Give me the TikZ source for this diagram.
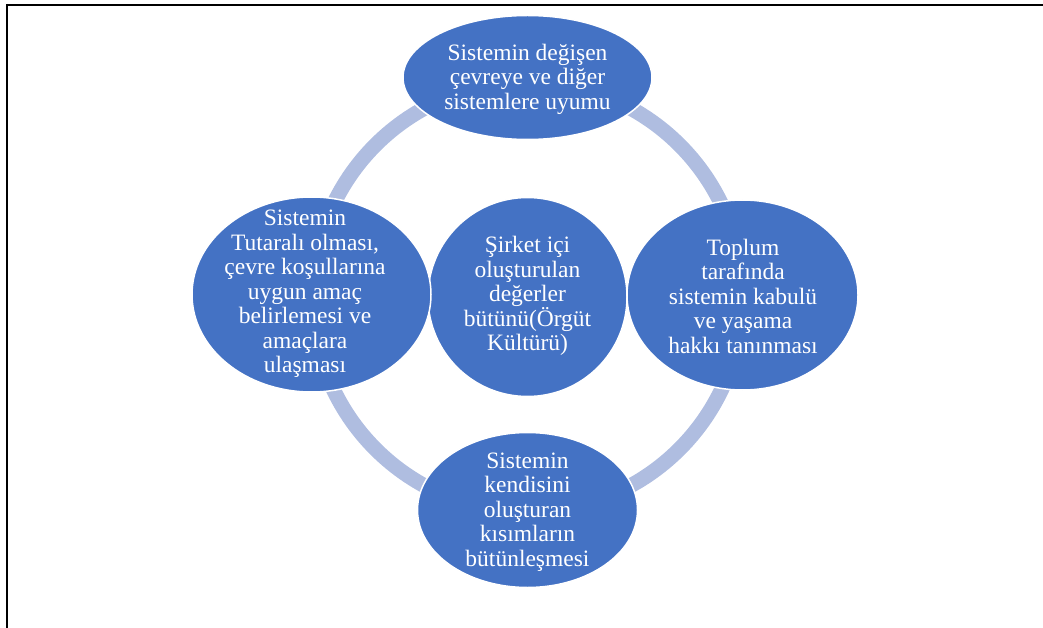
\documentclass[tikz,border=0pt]{standalone}
\usepackage{fontspec}
\setmainfont{Liberation Serif}
\usetikzlibrary{shapes.geometric}
\definecolor{blobblue}{RGB}{68,114,196}
\definecolor{ringblue}{RGB}{175,189,224}
\begin{document}
\begin{tikzpicture}[x=1pt,y=-1pt,
  blob/.style={ellipse,fill=blobblue,draw=white,line width=1.5pt,inner sep=0pt},
  txt/.style={align=center,text=white,inner sep=0pt,font=\fontsize{23.5}{24.5}\selectfont},
  frameline/.style={line width=2pt,black}]
\useasboundingbox (0,0) rectangle (1043,628);
% frame
\coordinate (f1) at (6,5);
\coordinate (f2) at (1043,5);
\coordinate (f3) at (7,4);
\coordinate (f4) at (7,628);
\draw[frameline] (f1) -- (f2);
\draw[frameline] (f3) -- (f4);
% ring
\coordinate (ringc) at (527.5,297);
\draw[ringblue,line width=15pt] (ringc) circle[radius=215];
% shapes
\node[blob,circle,minimum size=199pt] (center) at (527.5,297) {};
\node[blob,minimum width=249pt,minimum height=124pt] (top) at (527.5,77.5) {};
\node[blob,minimum width=239pt,minimum height=195pt] (left) at (311.5,294.5) {};
\node[blob,minimum width=231pt,minimum height=190pt] (right) at (742.5,295) {};
\node[blob,minimum width=220pt,minimum height=155pt] (bottom) at (527.5,510) {};
% texts
\node[txt] (toptxt) at (527.5,79) {Sistemin değişen\\çevreye ve diğer\\sistemlere uyumu};
\node[txt] (lefttxt) at (305,294) {Sistemin\\Tutaralı olması,\\çevre koşullarına\\uygun amaç\\belirlemesi ve\\amaçlara\\ulaşması};
\node[txt] (centertxt) at (527.5,296) {Şirket içi\\oluşturulan\\değerler\\bütünü(Örgüt\\Kültürü)};
\node[txt] (righttxt) at (743,296) {Toplum\\tarafında\\sistemin kabulü\\ve yaşama\\hakkı tanınması};
\node[txt] (bottomtxt) at (527.5,512) {Sistemin\\kendisini\\oluşturan\\kısımların\\bütünleşmesi};
\end{tikzpicture}
\end{document}
